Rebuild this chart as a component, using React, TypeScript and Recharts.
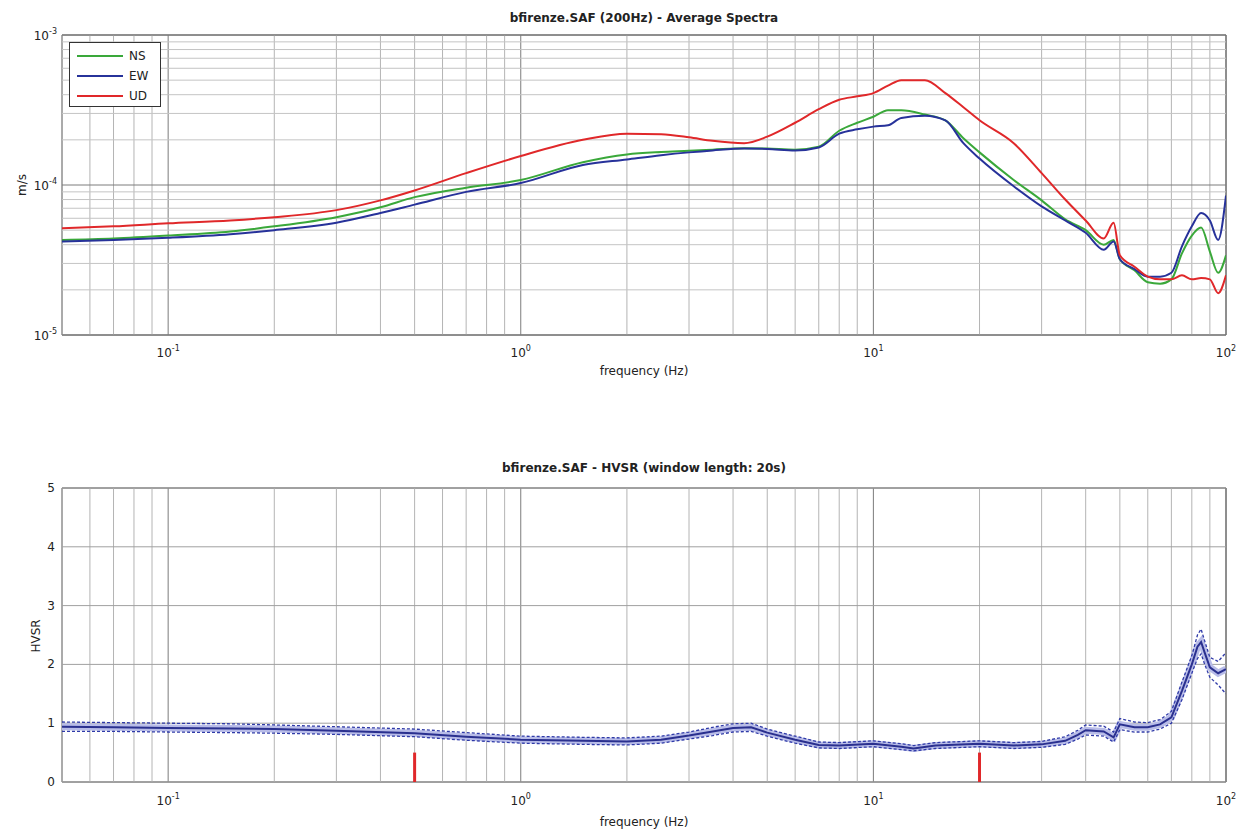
import React from 'react';
import { LineChart, Line, XAxis, YAxis, ReferenceLine, ReferenceArea } from 'recharts';

// ---------- Top panel: average spectra ----------
const topFreqs = [0.05, 0.07, 0.1, 0.15, 0.2, 0.3, 0.4, 0.5, 0.7, 1, 1.5, 2, 2.5, 3, 3.5, 4.3, 5, 6, 7, 8, 9, 10, 11, 12, 14, 16, 18, 20, 25, 30, 35, 40, 45, 48, 50, 55, 60, 65, 70, 75, 80, 85, 90, 95, 100];
const nsValues = [4.3e-5, 4.4e-5, 4.6e-5, 4.9e-5, 5.3e-5, 6.1e-5, 7.1e-5, 8.3e-5, 9.6e-5, 1.08e-4, 1.42e-4, 1.6e-4, 1.66e-4, 1.69e-4, 1.72e-4, 1.76e-4, 1.75e-4, 1.72e-4, 1.8e-4, 2.3e-4, 2.6e-4, 2.85e-4, 3.15e-4, 3.15e-4, 2.95e-4, 2.7e-4, 2.05e-4, 1.65e-4, 1.08e-4, 7.9e-5, 5.9e-5, 5.0e-5, 4.0e-5, 4.3e-5, 3.2e-5, 2.7e-5, 2.25e-5, 2.2e-5, 2.35e-5, 3.5e-5, 4.6e-5, 5.2e-5, 3.6e-5, 2.6e-5, 3.4e-5];
const ewValues = [4.2e-5, 4.3e-5, 4.45e-5, 4.7e-5, 5.0e-5, 5.6e-5, 6.5e-5, 7.4e-5, 9.0e-5, 1.03e-4, 1.36e-4, 1.48e-4, 1.58e-4, 1.65e-4, 1.7e-4, 1.75e-4, 1.74e-4, 1.7e-4, 1.78e-4, 2.2e-4, 2.35e-4, 2.45e-4, 2.5e-4, 2.8e-4, 2.9e-4, 2.7e-4, 1.9e-4, 1.5e-4, 9.8e-5, 7.2e-5, 5.8e-5, 4.8e-5, 3.7e-5, 4.2e-5, 3.2e-5, 2.75e-5, 2.45e-5, 2.45e-5, 2.6e-5, 3.9e-5, 5.3e-5, 6.5e-5, 5.8e-5, 4.3e-5, 8.5e-5];
const udValues = [5.15e-5, 5.3e-5, 5.55e-5, 5.8e-5, 6.1e-5, 6.8e-5, 7.9e-5, 9.2e-5, 1.2e-4, 1.56e-4, 2.0e-4, 2.2e-4, 2.18e-4, 2.08e-4, 1.97e-4, 1.9e-4, 2.1e-4, 2.6e-4, 3.2e-4, 3.7e-4, 3.9e-4, 4.1e-4, 4.6e-4, 5.0e-4, 5.0e-4, 4.1e-4, 3.3e-4, 2.7e-4, 1.9e-4, 1.2e-4, 8.0e-5, 5.8e-5, 4.4e-5, 5.6e-5, 3.4e-5, 2.85e-5, 2.45e-5, 2.35e-5, 2.35e-5, 2.5e-5, 2.35e-5, 2.4e-5, 2.35e-5, 1.9e-5, 2.5e-5];

const seriesNames = ['NS', 'EW', 'UD'];
const seriesKeys = ['ns', 'ew', 'ud'];
const seriesColors = ['#3aa83a', '#27329a', '#e0282a'];

// ---------- Bottom panel: HVSR ----------
const hvFreqs = [0.05, 0.07, 0.1, 0.15, 0.2, 0.3, 0.5, 0.7, 1, 1.5, 2, 2.5, 3, 3.5, 4, 4.5, 5, 6, 7, 8, 10, 12, 13, 15, 20, 25, 30, 35, 38, 40, 45, 48, 50, 55, 60, 65, 70, 75, 80, 83, 85, 87, 90, 95, 100];
const hvMean = [0.94, 0.93, 0.92, 0.91, 0.9, 0.87, 0.83, 0.77, 0.72, 0.7, 0.69, 0.72, 0.79, 0.86, 0.92, 0.93, 0.84, 0.72, 0.63, 0.62, 0.65, 0.6, 0.57, 0.62, 0.65, 0.62, 0.64, 0.7, 0.8, 0.88, 0.86, 0.76, 0.98, 0.93, 0.93, 0.98, 1.1, 1.55, 2.0, 2.3, 2.38, 2.2, 1.95, 1.85, 1.92];
const hvUpper = [1.02, 1.01, 1.0, 0.99, 0.97, 0.94, 0.9, 0.84, 0.78, 0.76, 0.75, 0.78, 0.85, 0.93, 0.99, 1.0, 0.9, 0.78, 0.68, 0.67, 0.7, 0.65, 0.62, 0.67, 0.7, 0.67, 0.69, 0.77, 0.88, 0.97, 0.95, 0.85, 1.08, 1.02, 1.01, 1.06, 1.2, 1.7, 2.15, 2.5, 2.6, 2.4, 2.12, 2.05, 2.2];
const hvLower = [0.86, 0.86, 0.85, 0.84, 0.83, 0.81, 0.77, 0.71, 0.66, 0.64, 0.63, 0.66, 0.73, 0.79, 0.85, 0.86, 0.78, 0.66, 0.58, 0.57, 0.6, 0.55, 0.53, 0.57, 0.6, 0.57, 0.59, 0.64, 0.73, 0.8, 0.78, 0.68, 0.89, 0.85, 0.85, 0.9, 1.0, 1.4, 1.85, 2.1, 2.18, 2.0, 1.78, 1.65, 1.5];
const markerFreqs = [0.5, 20];
const markerHeights = [0.5, 0.5];

// ---------- Axes ----------
const xDomain = [0.05, 100];
const xTicks = [0.1, 1, 10, 100];
const topYDomain = [1e-5, 1e-3];
const topYTicks = [1e-5, 1e-4, 1e-3];
const hvYDomain = [0, 5];
const hvYTicks = [0, 1, 2, 3, 4, 5];
const mults = [1, 2, 3, 4, 5, 6, 7, 8, 9];

const xGrid: number[] = [];
[0.01, 0.1, 1, 10].forEach((d) => mults.forEach((m) => { const v = +(d * m).toPrecision(3); if (v >= 0.05 && v <= 100) xGrid.push(v); }));
xGrid.push(100);
const yGridTop: number[] = [];
[1e-5, 1e-4].forEach((d) => mults.forEach((m) => yGridTop.push(+(d * m).toPrecision(3))));
yGridTop.push(1e-3);

const topData = topFreqs.map((f, i) => ({ f, ns: nsValues[i], ew: ewValues[i], ud: udValues[i] }));
const hvData = hvFreqs.map((f, i) => ({ f, mean: hvMean[i], upper: hvUpper[i], lower: hvLower[i] }));

const FONT = '"DejaVu Sans", "Liberation Sans", Arial, sans-serif';
const TXT = '#222';

const isMajor = (v: number) => Math.abs(Math.log10(v) - Math.round(Math.log10(v))) < 1e-6;

const PowXTick = (props: any) => {
  const { x, y, payload, dyBase } = props;
  const e = Math.round(Math.log10(payload.value));
  return (
    <text x={x} y={y + dyBase} textAnchor="middle" fontSize={12} fill={TXT} fontFamily={FONT}>
      <tspan>10</tspan>
      <tspan dy={-6} fontSize={8}>{e}</tspan>
    </text>
  );
};

const PowYTick = (props: any) => {
  const { x, y, payload } = props;
  const e = Math.round(Math.log10(payload.value));
  return (
    <text x={x - 5} y={y + 5} textAnchor="end" fontSize={12} fill={TXT} fontFamily={FONT}>
      <tspan>10</tspan>
      <tspan dy={-6} fontSize={8}>{e}</tspan>
    </text>
  );
};

const LinYTick = (props: any) => {
  const { x, y, payload } = props;
  return (
    <text x={x - 7} y={y + 4} textAnchor="end" fontSize={12} fill={TXT} fontFamily={FONT}>
      {payload.value}
    </text>
  );
};

const abs = (style: React.CSSProperties): React.CSSProperties => ({ position: 'absolute', fontFamily: FONT, color: TXT, whiteSpace: 'nowrap', ...style });

export default function App() {
  return (
    <div style={{ position: 'absolute', left: 0, top: 0, width: 1251, height: 834, background: '#fff' }}>
      {/* Top chart */}
      <div style={{ position: 'absolute', left: 0, top: 0 }}>
        <LineChart width={1251} height={390} data={topData} margin={{ top: 35, right: 25, bottom: 25, left: 12 }}>
          <XAxis dataKey="f" type="number" scale="log" domain={xDomain} ticks={xTicks} allowDataOverflow
            height={30} tickSize={0} tickMargin={0} axisLine={false} tickLine={false} tick={<PowXTick dyBase={22} />} />
          <YAxis type="number" scale="log" domain={topYDomain} ticks={topYTicks} allowDataOverflow
            width={50} tickSize={0} tickMargin={0} axisLine={false} tickLine={false} tick={<PowYTick />} />
          {xGrid.map((v) => (
            <ReferenceLine key={'tx' + v} x={v} stroke={isMajor(v) ? '#7c7c7c' : '#b4b4b4'} strokeWidth={1} />
          ))}
          {yGridTop.map((v) => (
            <ReferenceLine key={'ty' + v} y={v} stroke={isMajor(v) ? '#7c7c7c' : '#c4c4c4'} strokeWidth={1} />
          ))}
          <ReferenceArea x1={xDomain[0]} x2={xDomain[1]} y1={topYDomain[0]} y2={topYDomain[1]} fill="none" stroke="#444" strokeWidth={1} />
          {seriesKeys.map((k, i) => (
            <Line key={k} dataKey={k} type="monotone" stroke={seriesColors[i]} strokeWidth={2} dot={false} isAnimationActive={false} />
          ))}
        </LineChart>
      </div>

      {/* Bottom chart */}
      <div style={{ position: 'absolute', left: 0, top: 390 }}>
        <LineChart width={1251} height={444} data={hvData} margin={{ top: 98, right: 25, bottom: 22, left: 12 }}>
          <XAxis dataKey="f" type="number" scale="log" domain={xDomain} ticks={xTicks} allowDataOverflow
            height={30} tickSize={0} tickMargin={0} axisLine={false} tickLine={false} tick={<PowXTick dyBase={23} />} />
          <YAxis type="number" domain={hvYDomain} ticks={hvYTicks} allowDataOverflow
            width={50} tickSize={0} tickMargin={0} axisLine={false} tickLine={false} tick={<LinYTick />} />
          {xGrid.map((v) => (
            <ReferenceLine key={'bx' + v} x={v} stroke={isMajor(v) ? '#7c7c7c' : '#b4b4b4'} strokeWidth={1} />
          ))}
          {hvYTicks.map((v) => (
            <ReferenceLine key={'by' + v} y={v} stroke="#a0a0a0" strokeWidth={1} />
          ))}
          <ReferenceArea x1={xDomain[0]} x2={xDomain[1]} y1={hvYDomain[0]} y2={hvYDomain[1]} fill="none" stroke="#444" strokeWidth={1} />
          {markerFreqs.map((f, i) => (
            <ReferenceLine key={'m' + f} segment={[{ x: f, y: 0 }, { x: f, y: markerHeights[i] }]} stroke="#e0282a" strokeWidth={3} />
          ))}
          <Line dataKey="mean" type="linear" stroke="#b8bce8" strokeWidth={7} dot={false} isAnimationActive={false} legendType="none" />
          <Line dataKey="upper" type="linear" stroke="#2f3aa8" strokeWidth={1.3} strokeDasharray="3 2" dot={false} isAnimationActive={false} />
          <Line dataKey="lower" type="linear" stroke="#2f3aa8" strokeWidth={1.3} strokeDasharray="3 2" dot={false} isAnimationActive={false} />
          <Line dataKey="mean" type="linear" stroke="#2a308f" strokeWidth={2} dot={false} isAnimationActive={false} />
        </LineChart>
      </div>

      {/* Titles and axis labels */}
      <div style={abs({ left: 0, width: 1288, top: 11, textAlign: 'center', fontSize: 12, fontWeight: 'bold' })}>bfirenze.SAF (200Hz) - Average Spectra</div>
      <div style={abs({ left: 0, width: 1288, top: 364, textAlign: 'center', fontSize: 12 })}>frequency (Hz)</div>
      <div style={abs({ left: 22, top: 185, fontSize: 12, transform: 'translate(-50%, -50%) rotate(-90deg)' })}>m/s</div>

      <div style={abs({ left: 0, width: 1288, top: 461, textAlign: 'center', fontSize: 12, fontWeight: 'bold' })}>bfirenze.SAF - HVSR (window length: 20s)</div>
      <div style={abs({ left: 0, width: 1288, top: 815, textAlign: 'center', fontSize: 12 })}>frequency (Hz)</div>
      <div style={abs({ left: 36, top: 636, fontSize: 12, transform: 'translate(-50%, -50%) rotate(-90deg)' })}>HVSR</div>

      {/* Legend */}
      <div style={abs({ left: 69, top: 42, width: 92, height: 65, border: '1px solid #333', background: '#fff', boxSizing: 'border-box' })}>
        {seriesNames.map((n, i) => (
          <div key={n} style={{ position: 'absolute', left: 0, top: 5 + i * 20, height: 16, width: 90 }}>
            <div style={{ position: 'absolute', left: 7, top: 7, width: 46, height: 2, background: seriesColors[i] }} />
            <div style={{ position: 'absolute', left: 59, top: 0, fontSize: 12, lineHeight: '16px' }}>{n}</div>
          </div>
        ))}
      </div>
    </div>
  );
}
